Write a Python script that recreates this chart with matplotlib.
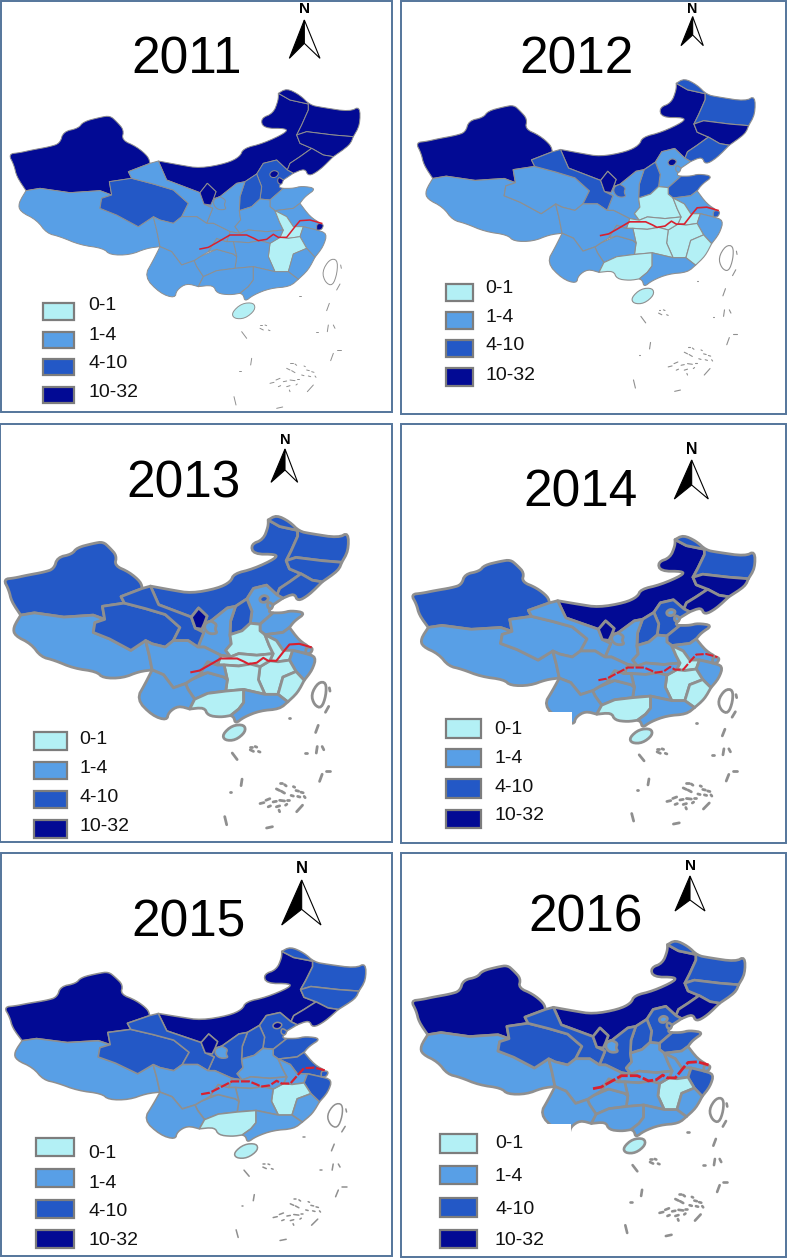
import matplotlib
matplotlib.use("Agg")
import matplotlib.pyplot as plt
from matplotlib.patches import Polygon, Rectangle
from collections import Counter

plt.rcParams["font.family"] = ["Liberation Sans", "DejaVu Sans"]

# province outlines
provinces = {
    "XJ": [(25,462),(60,458),(95,450),(150,440),(180,430),(190,395),(235,385),(250,365),(300,352),(330,347),(350,365),(372,390),(365,420),(410,440),(445,470),(450,490),(385,515),(395,535),(328,545),(335,585),(300,572),(210,578),(120,565),(78,572),(50,530),(42,495)],
    "XZ": [(78,572),(120,565),(210,578),(300,572),(335,585),(305,595),(300,625),(350,645),(415,680),(460,650),(470,690),(480,740),(440,745),(390,765),(330,765),(310,745),(240,735),(180,710),(140,700),(110,660),(60,635),(55,610)],
    "QH": [(328,545),(395,535),(460,552),(520,570),(565,610),(545,650),(520,670),(480,660),(460,650),(415,680),(350,645),(300,625),(305,595),(335,585)],
    "NM": [(475,483),(540,495),(600,505),(680,490),(720,470),(730,445),(790,430),(858,398),(860,385),(790,385),(782,355),(820,340),(835,300),(835,280),(870,300),(925,312),(925,330),(905,375),(890,405),(900,430),(935,445),(900,470),(870,490),(862,510),(830,480),(790,490),(770,522),(735,545),(710,550),(660,590),(640,597),(648,575),(622,550),(600,578),(500,540)],
    "HL": [(835,280),(860,265),(900,285),(930,315),(965,322),(1050,335),(1080,318),(1080,375),(1060,410),(1000,405),(920,395),(890,405),(905,375),(925,330),(925,312),(870,300)],
    "JL": [(890,405),(920,395),(1000,405),(1060,410),(1050,435),(1000,470),(970,465),(935,445),(900,430)],
    "LN": [(935,445),(970,465),(1000,470),(960,510),(925,530),(915,505),(880,520),(862,510),(870,490),(900,470)],
    "HE": [(770,522),(790,490),(830,480),(862,510),(880,520),(850,540),(835,562),(850,565),(810,600),(780,597),(785,560)],
    "SX": [(770,522),(785,560),(780,597),(755,620),(718,632),(720,590),(735,545)],
    "SD": [(810,600),(850,565),(880,565),(905,558),(950,565),(915,590),(900,610),(880,625),(825,632),(810,620)],
    "SN": [(660,590),(710,550),(735,545),(720,590),(718,632),(722,660),(705,680),(720,700),(690,695),(640,670),(620,670),(638,625),(612,612),(632,615),(640,597)],
    "GS": [(385,515),(450,490),(475,483),(500,540),(600,578),(612,612),(638,625),(620,670),(590,650),(545,650),(565,610),(520,570),(460,552),(395,535)],
    "GSE": [(642,597),(660,590),(678,600),(672,615),(680,628),(655,630),(640,615)],
    "NX": [(600,578),(622,550),(648,575),(640,597),(632,615),(612,612)],
    "HA": [(718,632),(755,620),(780,597),(810,600),(810,620),(825,632),(838,665),(850,690),(800,695),(745,690),(720,700),(705,680),(722,660)],
    "JS": [(825,632),(880,625),(900,610),(930,650),(965,672),(950,690),(910,680),(880,680),(860,650)],
    "AH": [(825,632),(860,650),(880,680),(910,680),(900,710),(865,715),(840,712),(850,690),(838,665)],
    "ZJ": [(910,680),(950,690),(982,700),(970,740),(945,772),(920,745),(900,710)],
    "JX": [(840,712),(865,715),(900,710),(920,745),(880,762),(865,815),(825,815),(805,770),(810,730)],
    "FJ": [(920,745),(945,772),(925,810),(895,838),(865,815),(880,762)],
    "HB": [(690,695),(720,700),(745,690),(800,695),(850,690),(840,712),(810,730),(780,722),(745,728),(700,725),(680,725)],
    "HN": [(700,725),(745,728),(780,722),(810,730),(805,770),(825,815),(760,800),(705,805),(710,770)],
    "GZ": [(600,770),(650,748),(700,762),(710,770),(705,805),(650,812),(610,830),(590,800),(582,782)],
    "CQ": [(650,715),(680,725),(700,725),(710,770),(700,762),(650,748),(625,755),(640,730)],
    "SC": [(460,650),(480,660),(520,670),(545,650),(590,650),(620,670),(640,670),(690,695),(680,725),(650,715),(640,730),(625,755),(600,770),(582,782),(545,795),(515,755),(480,740),(470,690)],
    "YN": [(480,740),(515,755),(545,795),(582,782),(590,800),(610,830),(595,860),(560,850),(530,870),(525,895),(480,880),(432,830),(460,780)],
    "GX": [(610,830),(650,812),(705,805),(760,800),(760,840),(745,860),(720,880),(690,885),(650,880),(640,855),(595,860)],
    "GD": [(760,800),(825,815),(865,815),(895,838),(870,860),(810,865),(760,885),(735,905),(730,885),(720,880),(745,860),(760,840)],
    "HI": [(695,938),(725,910),(762,908),(766,930),(735,956),(702,956)],
    "BJ": [(808,520),(822,510),(838,518),(828,533),(812,532)],
    "TJ": [(835,530),(850,540),(845,555),(832,548)],
    "SH": [(950,670),(972,672),(965,690),(950,690)],
}

province_order = ["XJ","XZ","QH","NM","HL","JL","LN","HE","SX","SD","SN","GS","GSE","NX","HA","JS","AH","ZJ","JX","FJ","HB","HN","GZ","CQ","SC","YN","GX","GD","HI","BJ","TJ","SH"]

# legend class of each province, same order as province_order
class_2011 = [3,1,2,3,3,3,3,2,2,1,1,1,1,3,1,1,0,1,0,1,1,1,1,1,1,1,1,1,0,3,3,3]
class_2012 = [3,1,1,3,2,3,2,1,2,2,1,2,2,3,0,1,0,1,0,0,0,0,1,1,1,1,0,1,0,3,1,2]
class_2013 = [2,1,2,2,2,2,2,1,2,1,1,2,1,3,0,1,0,1,0,0,0,0,1,1,1,1,0,1,0,2,1,1]
class_2014 = [2,1,1,3,2,3,3,2,2,2,1,1,1,3,1,1,0,1,0,0,1,1,1,1,1,1,0,1,0,1,1,1]
class_2015 = [3,1,2,3,2,2,3,2,2,2,2,2,1,3,1,2,1,2,0,1,1,1,1,1,1,1,0,1,0,3,2,2]
class_2016 = [3,1,2,3,2,2,3,2,2,2,2,2,1,3,1,1,1,2,0,1,1,1,1,1,1,1,1,1,0,1,2,1]

years = ["2011", "2012", "2013", "2014", "2015", "2016"]
year_classes = [class_2011, class_2012, class_2013, class_2014, class_2015, class_2016]

legend_labels = ["0-1", "1-4", "4-10", "10-32"]
class_colors = ["#b3f0f5", "#589fe6", "#2358c6", "#020a94"]

river = [(600,747),(625,742),(650,728),(690,705),(740,705),(762,715),(775,722),(800,718),(820,703),(835,712),(860,712),(885,680),(900,662),(930,660),(965,670)]
taiwan = [(966,815),(988,778),(1012,778),(1012,818),(998,858),(976,848)]
island_strokes = [
    [(1022,795),(1024,805)], [(1020,852),(1010,870)], [(988,910),(980,932)],
    [(725,995),(740,1015)], [(755,1075),(752,1095)], [(985,975),(982,995)],
    [(1000,975),(1005,985)], [(1000,1060),(992,1082)], [(702,1190),(708,1215)],
    [(940,1155),(922,1175)], [(830,1225),(848,1221)], [(1012,1050),(1024,1050)],
    [(898,888),(903,888)], [(948,996),(953,996)], [(718,1113),(722,1113)],
    [(780,975),(785,975)], [(795,975),(800,977)], [(780,985),(790,990)], [(805,990),(810,992)],
    [(870,1088),(878,1088)], [(885,1092),(890,1096)], [(860,1105),(870,1110)], [(875,1112),(885,1118)],
    [(912,1098),(916,1100)], [(920,1110),(928,1112)], [(935,1115),(942,1117)], [(905,1125),(912,1127)],
    [(925,1128),(932,1130)], [(945,1128),(948,1132)], [(828,1140),(840,1135)], [(850,1145),(860,1143)],
    [(870,1140),(885,1142)], [(892,1138),(898,1138)], [(810,1150),(822,1147)], [(835,1160),(842,1157)],
    [(860,1160),(870,1157)], [(888,1155),(892,1152)], [(868,1170),(870,1175)],
]

# panel layout: frame (x0, y0, x1, y1), page offset, map scale sx, ox, sy, oy
frames = [(1,1,392,412), (401,1,786,414), (0,424,392,842), (401,424,786,843), (1,853,392,1256), (401,853,786,1257)]
pages = [(0,0), (395,0), (0,425), (395,425), (0,850), (395,850)]
map_fit = [(1,0,1,0), (.965,38,.978,-24), (.981,-14.5,.978,11), (.978,23.5,.903,91), (1.029,-14,.918,47), (.95,24,.925,25)]
title_xy = [(560,180), (545,180), (550,178), (557,205), (565,218), (572,205)]
border_w = [0.7, 0.8, 2.0, 2.0, 1.1, 1.9]
river_w = [1.1, 1.2, 1.5, 1.5, 1.6, 2.0]
north = [(913,60,868,960,175,130,28), (893,50,858,925,137,105,28), (855,72,813,893,172,135,45),
         (890,105,838,940,222,180,72), (905,90,845,963,225,178,55), (885,78,840,930,183,150,47)]
legend_x = [(130,222,265), (152,235,272), (103,200,238), (152,258,298), (108,222,265), (135,247,300)]
legend_y = [
    [(910,960,918), (995,1043,1005), (1078,1125,1090), (1160,1208,1178)],
    [(852,903,865), (937,987,952), (1020,1072,1038), (1105,1157,1125)],
    [(922,975,942), (1010,1063,1030), (1097,1150,1117), (1185,1238,1205)],
    [(883,938,912), (972,1027,1000), (1063,1120,1088), (1155,1210,1172)],
    [(865,918,912), (958,1012,1000), (1050,1104,1085), (1140,1195,1172)],
    [(852,908,882), (947,1003,980), (1043,1100,1077), (1140,1195,1172)],
]
# the white notch cut out of Yunnan in two of the panels (x0, x1, y0, y1)
yunnan_cut = [None, None, None, (440,530,860,905), None, (440,527,823,870)]

# round off the coast, keep vertices shared by two provinces so borders still meet
vertex_count = Counter(v for pts in provinces.values() for v in pts)
shared = {v for v, n in vertex_count.items() if n > 1}


def smooth(points, passes=2):
    for _ in range(passes):
        out = []
        n = len(points)
        for j, p in enumerate(points):
            if p in shared:
                out.append(p)
                continue
            a = points[j - 1]
            b = points[(j + 1) % n]
            out.append((p[0] + (a[0] - p[0]) * .25, p[1] + (a[1] - p[1]) * .25))
            out.append((p[0] + (b[0] - p[0]) * .25, p[1] + (b[1] - p[1]) * .25))
        points = out
    return points


grey = "#8f8f8f"
fig = plt.figure(figsize=(7.87, 12.6), dpi=100)
ax = fig.add_axes([0, 0, 1, 1])
ax.set_xlim(0, 787)
ax.set_ylim(1260, 0)
ax.axis("off")

for i, year in enumerate(years):
    x0, y0, x1, y1 = frames[i]
    px, py = pages[i]
    sx, ox, sy, oy = map_fit[i]

    def to_page(points):
        return [(px + (ox + sx * x) / 3, py + (oy + sy * y) / 3) for x, y in points]

    def raw(x, y):
        return px + x / 3, py + y / 3

    ax.add_patch(Rectangle((x0, y0), x1 - x0, y1 - y0, fc="white", ec="#54759b", lw=1.4, zorder=1))

    for name, cls in zip(province_order, year_classes[i]):
        ax.add_patch(Polygon(to_page(smooth(provinces[name])), closed=True, fc=class_colors[cls], ec=grey,
                             lw=border_w[i], joinstyle="round", zorder=2))

    if yunnan_cut[i]:
        cx0, cx1, cy0, cy1 = yunnan_cut[i]
        a, b = raw(cx0, cy0)
        c, d = raw(cx1, cy1)
        ax.add_patch(Rectangle((a, b), c - a, d - b, fc="white", ec="none", zorder=2.5))

    ax.add_patch(Polygon(to_page(smooth(taiwan)), closed=True, fc="white", ec=grey, lw=border_w[i], zorder=2))
    for stroke in island_strokes:
        xy = to_page(stroke)
        ax.plot([p[0] for p in xy], [p[1] for p in xy], color=grey, lw=border_w[i], solid_capstyle="round", zorder=2)

    xy = to_page(river)
    ax.plot([p[0] for p in xy], [p[1] for p in xy], color="#d9202e", lw=river_w[i],
            ls="-" if i < 3 else (0, (4, 0.8)), zorder=3)

    tx, ty = raw(*title_xy[i])
    ax.text(tx, ty, year, fontsize=37, ha="center", va="center", color="black", zorder=4)

    # north arrow
    ax_x, tip_y, left, right, base_y, notch_y, n_y = north[i]
    ax.add_patch(Polygon([raw(ax_x, tip_y), raw(left, base_y), raw(ax_x, notch_y)], closed=True, fc="black", ec="black", lw=0.8, zorder=4))
    ax.add_patch(Polygon([raw(ax_x, tip_y), raw(right, base_y), raw(ax_x, notch_y)], closed=True, fc="white", ec="black", lw=0.8, zorder=4))
    nx, ny = raw(ax_x, n_y)
    ax.text(nx, ny, "N", fontsize=8 + (right - left) / 30, ha="center", va="center", fontweight="bold", zorder=4)

    # legend
    bx0, bx1, text_x = legend_x[i]
    for k, label in enumerate(legend_labels):
        by0, by1, text_y = legend_y[i][k]
        a, b = raw(bx0, by0)
        c, d = raw(bx1, by1)
        ax.add_patch(Rectangle((a, b), c - a, d - b, fc=class_colors[k], ec="#7d7d7d", lw=1.6, zorder=4))
        tx, ty = raw(text_x, text_y)
        ax.text(tx, ty, label, fontsize=14, ha="left", va="center", color="#111111", zorder=4)

fig.savefig("out.png", dpi=100)
